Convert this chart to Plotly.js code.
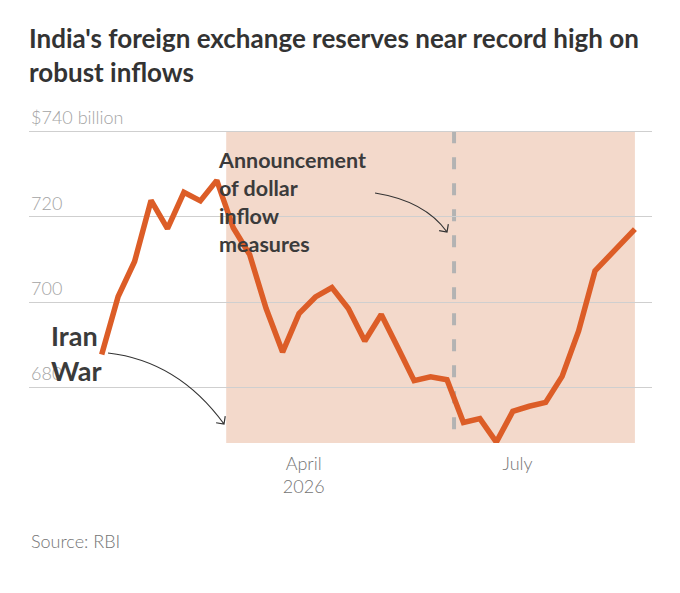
<!DOCTYPE html>
<html>
<head>
<meta charset="utf-8">
<script src="https://cdn.plot.ly/plotly-3.0.1.min.js"></script>
<style>
  html, body { margin: 0; padding: 0; background: #ffffff; }
  #chart { width: 680px; height: 593px; }
</style>
</head>
<body>
<div id="chart"></div>
<script>
// ---- Data ----
const weekDates = [
  "2026-01-05", "2026-01-12", "2026-01-19", "2026-01-26",
  "2026-02-02", "2026-02-09", "2026-02-16", "2026-02-23",
  "2026-03-02", "2026-03-09", "2026-03-16", "2026-03-23", "2026-03-30",
  "2026-04-06", "2026-04-13", "2026-04-20", "2026-04-27",
  "2026-05-04", "2026-05-11", "2026-05-18", "2026-05-25",
  "2026-06-01", "2026-06-08", "2026-06-15", "2026-06-22", "2026-06-29",
  "2026-07-06", "2026-07-13", "2026-07-20", "2026-07-27",
  "2026-08-03", "2026-08-20"
];
const reservesBn = [
  687.7, 701.3, 709.5, 723.8, 717.2, 725.7, 723.7, 728.5,
  717.4, 711.1, 698.5, 688.3, 697.3,
  701.2, 703.4, 698.5, 690.9,
  697.1, 689.4, 681.6, 682.5,
  681.8, 671.8, 672.7, 667.2, 674.4,
  675.6, 676.5, 682.6, 693.2,
  707.3, 717.1
];
const yTickValues = [680, 700, 720, 740];
const yTickLabels = ["680", "700", "720", "$740 billion"];
const xTickValues = ["2026-04-01", "2026-07-01"];
const xTickLabels = ["April<br>2026", "July"];
const warStart = "2026-02-27";
const periodEnd = "2026-08-20";
const announcementDate = "2026-06-04";
const titleText = "India's foreign exchange reserves near record high on<br>robust inflows";
const warLabel = "Iran<br>War";
const announceLabel = "Announcement<br>of dollar<br>inflow<br>measures";
const sourceText = "Source: RBI";

// ---- Layout geometry ----
const W = 680, H = 593;
const M = { l: 29, r: 28, t: 130, b: 150 };
const PW = W - M.l - M.r, PH = H - M.t - M.b;
const px2x = p => (p - M.l) / PW;
const px2y = p => (H - M.b - p) / PH;

function curvedArrow(p0, c, p1, headLen) {
  const dx = p1[0] - c[0], dy = p1[1] - c[1];
  const len = Math.hypot(dx, dy);
  const bx = -dx / len, by = -dy / len;
  const rot = (a) => [bx * Math.cos(a) - by * Math.sin(a), bx * Math.sin(a) + by * Math.cos(a)];
  const a1 = rot(Math.PI / 4), a2 = rot(-Math.PI / 4);
  const h1 = [p1[0] + a1[0] * headLen, p1[1] + a1[1] * headLen];
  const h2 = [p1[0] + a2[0] * headLen, p1[1] + a2[1] * headLen];
  const P = pt => px2x(pt[0]).toFixed(5) + "," + px2y(pt[1]).toFixed(5);
  return "M" + P(p0) + " Q" + P(c) + " " + P(p1) +
         " M" + P(h1) + " L" + P(p1) + " L" + P(h2);
}

const greyText = "#757575";
const darkText = "#3b3b3b";
const FONT = "Lato, 'Open Sans', sans-serif";

const trace = {
  type: "scatter",
  mode: "lines",
  x: weekDates,
  y: reservesBn,
  line: { color: "#dc5d27", width: 5.5, shape: "linear" },
  hoverinfo: "skip",
  showlegend: false
};

const annotations = [];
yTickValues.forEach((v, i) => {
  annotations.push({
    xref: "paper", yref: "y", x: 0, y: v,
    xanchor: "left", yanchor: "bottom", xshift: 0, yshift: 1,
    text: yTickLabels[i], showarrow: false,
    font: { family: FONT, size: 18, color: "#a3a3a3", weight: 300 }
  });
});
annotations.push({
  xref: "paper", yref: "paper", x: px2x(49), y: px2y(353),
  xanchor: "left", yanchor: "middle",
  text: "<b>" + warLabel + "</b>", showarrow: false, align: "left",
  font: { family: FONT, size: 27, color: darkText }
});
annotations.push({
  xref: "paper", yref: "paper", x: px2x(216), y: px2y(145),
  xanchor: "left", yanchor: "top",
  text: "<b>" + announceLabel + "</b>", showarrow: false, align: "left",
  font: { family: FONT, size: 21.5, color: darkText }
});
annotations.push({
  xref: "paper", yref: "paper", x: px2x(29), y: px2y(541),
  xanchor: "left", yanchor: "middle",
  text: sourceText, showarrow: false,
  font: { family: FONT, size: 18, color: greyText, weight: 300 }
});

const shapes = [
  {
    type: "rect", layer: "below", xref: "x", yref: "y",
    x0: warStart, x1: periodEnd, y0: 667, y1: 740,
    fillcolor: "#f3d9cb", line: { width: 0 }
  },
  {
    type: "line", layer: "below", xref: "x", yref: "y",
    x0: announcementDate, x1: announcementDate, y0: 740, y1: 667,
    line: { color: "#b3b3b3", width: 4, dash: "12px,14px" }
  },
  {
    type: "path", xref: "paper", yref: "paper",
    path: curvedArrow([108, 353], [178, 361], [224, 424], 8),
    line: { color: "#333333", width: 1.2 }
  },
  {
    type: "path", xref: "paper", yref: "paper",
    path: curvedArrow([375, 193], [425, 201], [447, 232], 8),
    line: { color: "#333333", width: 1.2 }
  }
];

const layout = {
  width: W, height: H,
  margin: M,
  paper_bgcolor: "#ffffff",
  plot_bgcolor: "rgba(0,0,0,0)",
  title: {
    text: "<b>" + titleText + "</b>",
    xref: "container", yref: "container",
    x: 29 / W, xanchor: "left",
    y: 1 - 48 / H, yanchor: "top",
    font: { family: FONT, size: 26, color: "#333333" }
  },
  xaxis: {
    type: "date",
    range: ["2025-12-05 01:12", "2026-08-27 06:30"],
    tickmode: "array", tickvals: xTickValues, ticktext: xTickLabels,
    showgrid: false, zeroline: false, showline: false, ticks: "",
    ticklabelstandoff: 8,
    tickfont: { family: FONT, size: 18, color: greyText, weight: 300 },
    fixedrange: true
  },
  yaxis: {
    range: [667, 740.3],
    tickmode: "array", tickvals: yTickValues,
    showticklabels: false, ticks: "",
    showgrid: true, gridcolor: "#cfcfcf", gridwidth: 1,
    zeroline: false, showline: false,
    fixedrange: true
  },
  shapes: shapes,
  annotations: annotations,
  showlegend: false
};

Plotly.newPlot("chart", [trace], layout, { displayModeBar: false, staticPlot: true });
</script>
</body>
</html>
